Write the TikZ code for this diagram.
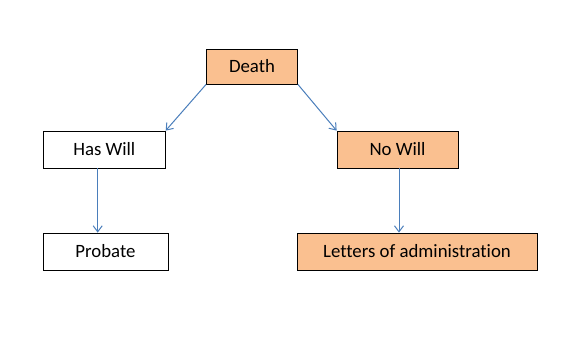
\documentclass[tikz,border=0pt]{standalone}
\usepackage{fontspec}
\setmainfont{Carlito}[Ligatures=NoCommon]
\usetikzlibrary{arrows.meta}

\definecolor{boxorange}{HTML}{FAC090}
\definecolor{arrowblue}{HTML}{4A7EBB}

\tikzset{
  box/.style={draw=black,line width=0.8pt,inner sep=0pt,minimum height=37pt,
    font=\fontsize{18.8}{22}\selectfont},
  orangebox/.style={box,fill=boxorange},
  flow/.style={arrowblue,line width=1pt,-{Straight Barb[length=6pt,width=9pt]}}
}

\begin{document}
\begin{tikzpicture}[x=1pt,y=-1pt]
  \useasboundingbox (0,0) rectangle (583,343);
  \node[orangebox,minimum width=91pt,minimum height=35pt] (death) at (252,66.5) {Death};
  \node[box,minimum width=122pt] (haswill) at (104.3,149.5) {Has Will};
  \node[orangebox,minimum width=121pt] (nowill) at (397.5,149.5) {No Will};
  \node[box,minimum width=125pt] (probate) at (105.5,251.5) {Probate};
  \node[orangebox,minimum width=240pt] (letters) at (417,251.5) {Letters of administration};
  % from death to the two cases
  \draw[flow] (death.south west) -- (haswill.north east);
  \draw[flow] (death.south east) -- (nowill.north west);
  \draw[flow] ([xshift=-6.6pt]haswill.south) -- ([xshift=-6.6pt]haswill.south |- probate.north);
  \draw[flow] ([xshift=1.5pt]nowill.south) -- ([xshift=1.5pt]nowill.south |- letters.north);
\end{tikzpicture}
\end{document}
